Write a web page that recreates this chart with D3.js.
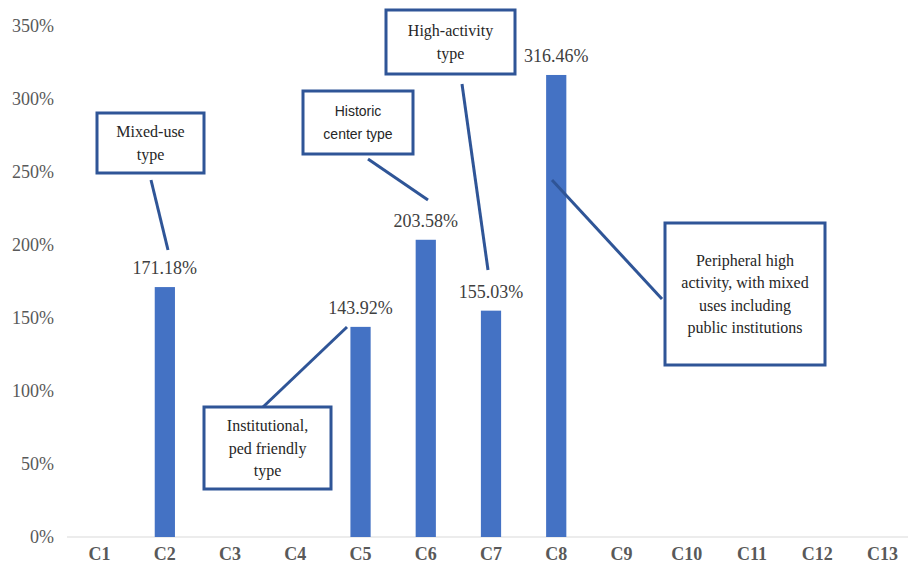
<!doctype html>
<html>
<head>
<meta charset="utf-8">
<script src="https://cdnjs.cloudflare.com/ajax/libs/d3/7.8.5/d3.min.js"></script>
<style>
  body { margin: 0; background: #fff; }
  svg { display: block; }
</style>
</head>
<body>
<svg width="908" height="567"></svg>
<script>
var categories = ["C1","C2","C3","C4","C5","C6","C7","C8","C9","C10","C11","C12","C13"];
var values = [0, 171.18, 0, 0, 143.92, 203.58, 155.03, 316.46, 0, 0, 0, 0, 0];
var yTicks = [0, 50, 100, 150, 200, 250, 300, 350];

var SERIF = "Liberation Serif";
var SANS = "Liberation Sans";

// callouts: text lines, box [x, y, w, h], leader line from box to bar
var notes = [
  { lines: ["Mixed-use", "type"], box: [97, 113, 107, 60], from: [151, 180], to: [168, 250] },
  { lines: ["Historic", "center type"], sans: true, box: [303, 91, 110, 63], from: [368, 159], to: [428, 200] },
  { lines: ["High-activity", "type"], box: [386, 10, 129, 64], from: [462, 84], to: [488, 270] },
  { lines: ["Institutional,", "ped friendly", "type"], box: [204, 407, 127, 82], from: [263, 407], to: [347, 327] },
  { lines: ["Peripheral high", "activity, with mixed", "uses including", "public institutions"], box: [665, 223, 160, 142], from: [552, 180], to: [662, 299] }
];

var svg = d3.select("svg");

var x = d3.scaleBand().domain(categories).range([67, 915]).paddingInner(0.69).paddingOuter(0.345);
var y = d3.scaleLinear().domain([0, 350]).range([537, 26]);

// y axis labels
var yAxis = svg.append("g")
  .attr("transform", "translate(60,0)")
  .call(d3.axisLeft(y).tickValues(yTicks).tickSize(0).tickFormat(function (d) { return d + "%"; }));
yAxis.select(".domain").remove();
yAxis.attr("font-family", SERIF);
yAxis.selectAll("text").attr("font-family", SERIF).attr("font-size", 18).attr("fill", "#595959").attr("x", -6);

// baseline
svg.append("line")
  .attr("x1", 67).attr("x2", 908)
  .attr("y1", y(0)).attr("y2", y(0))
  .attr("stroke", "#d9d9d9").attr("stroke-width", 1);

// x axis labels
var xAxis = svg.append("g")
  .attr("transform", "translate(0," + y(0) + ")")
  .call(d3.axisBottom(x).tickSize(0).tickPadding(10));
xAxis.select(".domain").remove();
xAxis.attr("font-family", SERIF);
xAxis.selectAll("text").attr("font-family", SERIF).attr("font-size", 18).attr("font-weight", "bold").attr("fill", "#595959");

var shown = categories.map(function (c, i) { return { cat: c, v: values[i] }; })
  .filter(function (d) { return d.v > 0; });

// bars
svg.selectAll("rect.bar").data(shown).enter()
  .append("rect")
  .attr("class", "bar")
  .attr("x", function (d) { return x(d.cat); })
  .attr("y", function (d) { return y(d.v); })
  .attr("width", x.bandwidth())
  .attr("height", function (d) { return y(0) - y(d.v); })
  .attr("fill", "#4472c4");

// value labels
svg.selectAll("text.val").data(shown).enter()
  .append("text")
  .attr("class", "val")
  .attr("font-family", SERIF)
  .attr("font-size", 18)
  .attr("fill", "#404040")
  .attr("text-anchor", "middle")
  .attr("x", function (d) { return x(d.cat) + x.bandwidth() / 2; })
  .attr("y", function (d) { return y(d.v) - 13; })
  .text(function (d) { return d.v.toFixed(2) + "%"; });

// callouts
notes.forEach(function (n) {
  svg.append("line")
    .attr("x1", n.from[0]).attr("y1", n.from[1])
    .attr("x2", n.to[0]).attr("y2", n.to[1])
    .attr("stroke", "#2f5597").attr("stroke-width", 3);
  svg.append("rect")
    .attr("x", n.box[0]).attr("y", n.box[1])
    .attr("width", n.box[2]).attr("height", n.box[3])
    .attr("fill", "#fff").attr("stroke", "#2f5597").attr("stroke-width", 3);
  var lh = n.sans ? 23 : 22.5;
  var cx = n.box[0] + n.box[2] / 2;
  var cy = n.box[1] + n.box[3] / 2;
  var t = svg.append("text")
    .attr("font-family", n.sans ? SANS : SERIF)
    .attr("font-size", n.sans ? 14 : 16)
    .attr("fill", "#262626")
    .attr("text-anchor", "middle");
  n.lines.forEach(function (l, i) {
    t.append("tspan")
      .attr("x", cx)
      .attr("y", cy + (i - (n.lines.length - 1) / 2) * lh)
      .attr("dy", "0.35em")
      .text(l);
  });
});
</script>
</body>
</html>
